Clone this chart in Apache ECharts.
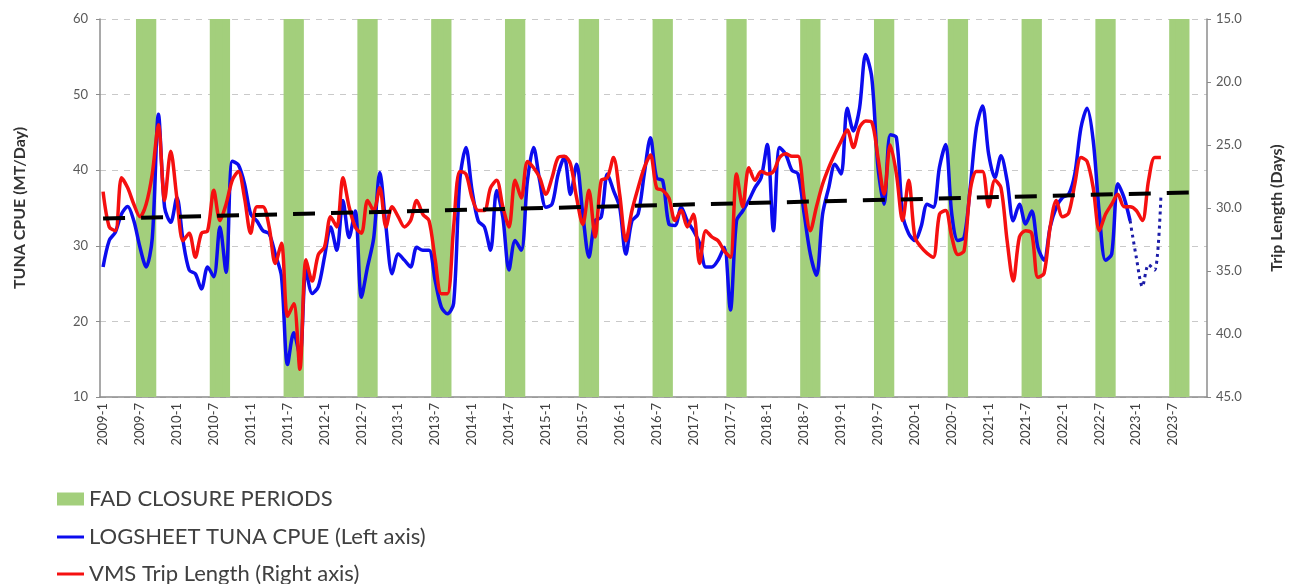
<!DOCTYPE html>
<html>
<head>
<meta charset="utf-8">
<script src="https://cdn.jsdelivr.net/npm/echarts@6/dist/echarts.min.js"></script>
<style>
  html, body { margin: 0; padding: 0; background: #fff; }
  #chart { width: 1298px; height: 584px; }
</style>
</head>
<body>
<div id="chart"></div>
<script>
// monthly categories 2009-1 .. 2023-12
var years = [2009, 2010, 2011, 2012, 2013, 2014, 2015, 2016, 2017, 2018, 2019, 2020, 2021, 2022, 2023];
var months = [1, 2, 3, 4, 5, 6, 7, 8, 9, 10, 11, 12];
var categories = [];
years.forEach(function (y) {
  months.forEach(function (m) { categories.push(y + '-' + m); });
});

// FAD closure months (each year)
var closureMonths = [7, 8, 9];

// logsheet tuna CPUE (MT/day), left axis, one row per year
var cpue = [
  27.2, 30.7, 31.8, 34.2, 35.2, 33.3, 29.8, 27.2, 31.0, 47.4, 35.1, 33.1,
  36.4, 30.7, 26.8, 26.3, 24.3, 27.2, 25.9, 32.5, 26.5, 41.2, 40.7, 38.2,
  34.2, 33.3, 32.0, 31.6, 28.9, 26.0, 14.3, 18.5, 15.5, 26.8, 23.7, 24.6,
  28.5, 32.5, 29.4, 36.0, 31.1, 34.6, 23.2, 27.2, 31.0, 39.7, 32.5, 26.3,
  28.9, 28.1, 27.2, 29.8, 29.4, 29.4, 25.4, 21.9, 21.0, 22.4, 38.6, 43.0,
  37.3, 33.3, 32.5, 29.4, 37.3, 33.8, 26.8, 30.7, 29.4, 38.6, 43.0, 38.6,
  35.1, 35.5, 39.5, 41.7, 36.8, 40.8, 34.2, 28.5, 33.3, 33.8, 39.5, 37.3,
  35.1, 28.9, 33.3, 34.2, 39.5, 44.3, 39.0, 38.6, 32.9, 32.7, 35.1, 33.3,
  32.0, 30.3, 27.2, 27.2, 28.1, 29.8, 21.5, 33.3, 34.6, 36.0, 37.7, 39.0,
  43.4, 32.0, 43.0, 42.1, 40.0, 39.5, 34.2, 28.9, 26.1, 34.2, 37.7, 40.8,
  39.5, 48.2, 45.2, 48.2, 55.3, 52.2, 40.4, 35.5, 44.7, 44.3, 34.2, 31.6,
  30.7, 32.5, 35.5, 35.1, 40.4, 43.4, 34.2, 30.7, 31.1, 37.7, 45.6, 48.5,
  42.1, 39.0, 41.9, 38.6, 33.3, 35.5, 32.9, 34.6, 29.8, 28.1, 32.5, 35.1,
  36.4, 36.8, 39.5, 45.6, 48.2, 43.9, 34.2, 28.1, 28.9, 38.2, 36.4, 33.3
];

// provisional CPUE (dotted), starting 2022-12
var cpueProvStart = '2022-12';
var cpueProv = [33.3, 28.5, 24.6, 27.5, 26.8, 36.4];

// VMS trip length (days), right axis
var tripLength = [
  28.7, 31.5, 31.8, 27.6, 28.4, 29.7, 30.7, 29.7, 27.3, 23.4, 29.4, 25.5,
  29.2, 32.6, 32.0, 33.9, 32.0, 31.8, 28.6, 31.0, 29.7, 27.8, 27.1, 29.2,
  32.0, 29.9, 29.9, 31.5, 34.4, 32.8, 38.6, 37.6, 42.8, 34.1, 35.8, 33.7,
  33.1, 30.7, 31.5, 27.6, 29.9, 31.5, 32.0, 29.4, 30.2, 28.4, 31.5, 29.9,
  30.7, 31.5, 31.0, 29.4, 30.5, 31.0, 34.1, 36.8, 36.8, 31.5, 27.1, 27.3,
  29.2, 30.2, 30.2, 28.4, 27.8, 29.9, 31.5, 27.8, 29.2, 26.3, 26.8, 27.6,
  28.9, 27.6, 26.0, 25.9, 26.5, 29.2, 31.3, 28.6, 32.3, 27.8, 27.6, 26.0,
  28.9, 32.6, 30.2, 28.4, 26.8, 25.8, 28.4, 28.6, 29.2, 31.0, 30.2, 31.5,
  30.5, 34.4, 31.8, 32.3, 32.6, 33.4, 33.9, 27.3, 29.9, 26.8, 27.8, 27.1,
  27.3, 27.1, 26.0, 25.7, 25.9, 25.9, 29.2, 31.8, 29.9, 28.1, 26.8, 25.7,
  24.7, 23.8, 25.2, 23.6, 23.1, 23.2, 26.0, 28.9, 25.0, 27.3, 31.0, 27.8,
  32.3, 33.1, 33.6, 33.9, 30.5, 30.2, 32.3, 33.7, 33.4, 28.6, 27.1, 27.1,
  29.9, 27.8, 28.4, 32.6, 35.8, 32.3, 31.8, 32.0, 35.5, 35.2, 31.5, 29.4,
  30.7, 30.4, 28.1, 26.0, 26.3, 28.4, 31.8, 30.5, 29.7, 28.9, 29.9, 29.9,
  30.2, 31.0, 27.8, 26.0, 26.0
];

// linear trend of CPUE (left axis), first and last month
var trendStart = 33.6;
var trendEnd = 37.1;

var closure = categories.map(function (c) {
  var m = +c.split('-')[1];
  return closureMonths.indexOf(m) >= 0 ? 1 : '-';
});
var provIdx = categories.indexOf(cpueProvStart);
var provData = cpueProv.map(function (v, k) { return [categories[provIdx + k], v]; });
var trendData = [[categories[0], trendStart], [categories[categories.length - 1], trendEnd]];

var font = 'Lato';
var lineIcon = 'path://M0,0L27,0L27,3L0,3Z';

// one legend box per row so the three rows stack like the original
function legendRow(name, icon, top) {
  return {
    orient: 'vertical',
    left: 57,
    top: top,
    padding: 0,
    itemWidth: 27,
    itemHeight: 13,
    textStyle: { fontSize: 22, color: '#404040', fontFamily: font },
    data: [{ name: name, icon: icon }]
  };
}

var chart = echarts.init(document.getElementById('chart'));
chart.setOption({
  animation: false,
  textStyle: { fontFamily: font },
  grid: { left: 100, right: 91, top: 19, bottom: 187 },
  legend: [
    legendRow('FAD CLOSURE PERIODS', 'rect', 488),
    legendRow('LOGSHEET TUNA CPUE (Left axis)', lineIcon, 526),
    legendRow('VMS Trip Length (Right axis)', lineIcon, 563)
  ],
  xAxis: {
    type: 'category',
    data: categories,
    boundaryGap: true,
    axisLine: { lineStyle: { color: '#8c8c8c', width: 1.5 } },
    axisTick: { interval: 0, length: 4, lineStyle: { color: '#8c8c8c' } },
    axisLabel: {
      interval: 5, rotate: 90, margin: 6,
      fontSize: 13, color: '#404040', fontFamily: font
    },
    splitLine: { show: false }
  },
  yAxis: [
    {
      type: 'value', min: 10, max: 60, interval: 10,
      name: 'TUNA CPUE (MT/Day)', nameLocation: 'middle', nameRotate: 90, nameGap: 72,
      nameTextStyle: { fontSize: 16, fontWeight: 'bold', color: '#333', fontFamily: font },
      axisLine: { show: true, lineStyle: { color: '#8c8c8c', width: 1.5 } },
      axisTick: { show: true, length: 4, lineStyle: { color: '#8c8c8c' } },
      axisLabel: { fontSize: 13, color: '#595959', margin: 12, fontFamily: font },
      splitLine: { lineStyle: { color: '#c9c9c9', type: [6, 6] } }
    },
    {
      type: 'value', min: 15, max: 45, interval: 5, inverse: true, position: 'right',
      name: 'Trip Length (Days)', nameLocation: 'middle', nameRotate: 90, nameGap: 62,
      nameTextStyle: { fontSize: 16, fontWeight: 'bold', color: '#333', fontFamily: font },
      axisLine: { show: true, lineStyle: { color: '#8c8c8c', width: 1.5 } },
      axisTick: { show: true, length: 4, lineStyle: { color: '#8c8c8c' } },
      axisLabel: {
        fontSize: 13, color: '#595959', margin: 9, fontFamily: font,
        formatter: function (v) { return v.toFixed(1); }
      },
      splitLine: { show: false }
    },
    { type: 'value', min: 0, max: 1, show: false }
  ],
  series: [
    {
      name: 'FAD CLOSURE PERIODS',
      type: 'bar',
      yAxisIndex: 2,
      data: closure,
      barWidth: 8,
      itemStyle: { color: '#a3cf7c' },
      silent: true
    },
    {
      name: 'LOGSHEET TUNA CPUE (Left axis)',
      type: 'line',
      data: cpue,
      smooth: 0.3,
      symbol: 'none',
      lineStyle: { color: '#0c0cee', width: 3.5 },
      itemStyle: { color: '#0c0cee' }
    },
    {
      name: 'provisional',
      type: 'line',
      data: provData,
      smooth: 0.3,
      symbol: 'none',
      lineStyle: { color: '#1c1ca8', width: 3, type: [3, 4] }
    },
    {
      name: 'VMS Trip Length (Right axis)',
      type: 'line',
      yAxisIndex: 1,
      data: tripLength,
      smooth: 0.3,
      symbol: 'none',
      lineStyle: { color: '#f51010', width: 3.5 },
      itemStyle: { color: '#f51010' }
    },
    {
      name: 'trend',
      type: 'line',
      data: trendData,
      symbol: 'none',
      lineStyle: { color: '#000', width: 4, type: [22, 16] },
      z: 5
    }
  ]
});
</script>
</body>
</html>
